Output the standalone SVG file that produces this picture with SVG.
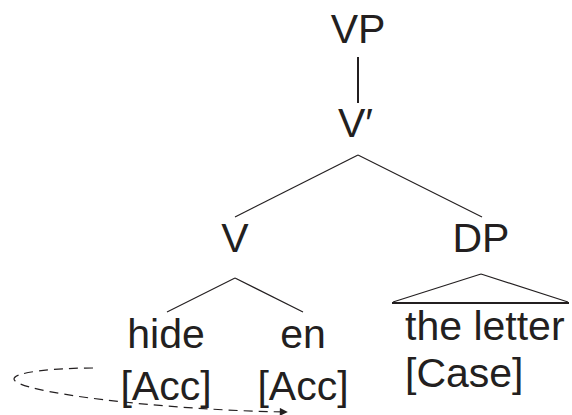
<svg xmlns="http://www.w3.org/2000/svg" width="572" height="415" viewBox="0 0 572 415">
<style>
text{font-family:"Liberation Sans",Arial,sans-serif;font-size:41px;fill:#231f20}
.e{fill:none;stroke:#231f20;stroke-width:1.2}
.dash{fill:none;stroke:#231f20;stroke-width:1.2;stroke-dasharray:9 6}
</style>
<defs>
<marker id="ah" viewBox="0 0 10 10" refX="9" refY="5" markerWidth="12" markerHeight="8" markerUnits="userSpaceOnUse" orient="auto">
<path d="M0,0 L10,5 L0,10 z" fill="#231f20"/>
</marker>
</defs>
<g id="connectors">
<line class="e" x1="358" y1="57" x2="358" y2="103" style="stroke-width:2"/>
<line class="e" x1="358" y1="155" x2="235" y2="217"/>
<line class="e" x1="358" y1="155" x2="482" y2="217"/>
<line class="e" x1="235" y1="278" x2="167" y2="312"/>
<line class="e" x1="235" y1="278" x2="303" y2="312"/>
<path class="e" d="M481,274 L393,302 M481,274 L568,302"/>
<line class="e" x1="392" y1="303" x2="569" y2="303" style="stroke-width:2"/>
<path class="dash" d="M93,368 C55,368 14,372 14,379 C14,392 160,410 287,412" marker-end="url(#ah)"/>
</g>
<g id="VP"><text x="358" y="43" text-anchor="middle">VP</text></g>
<g id="Vbar"><text x="338" y="137">V′</text></g>
<g id="V"><text x="235" y="252" text-anchor="middle">V</text></g>
<g id="DP"><text x="481" y="252" text-anchor="middle">DP</text></g>
<g id="hide"><text x="166" y="348" text-anchor="middle">hide</text><text x="166" y="400" text-anchor="middle">[Acc]</text></g>
<g id="en"><text x="303" y="348" text-anchor="middle">en</text><text x="303" y="400" text-anchor="middle">[Acc]</text></g>
<g id="theletter"><text x="405" y="340">the letter</text><text x="405" y="387">[Case]</text></g>
</svg>
